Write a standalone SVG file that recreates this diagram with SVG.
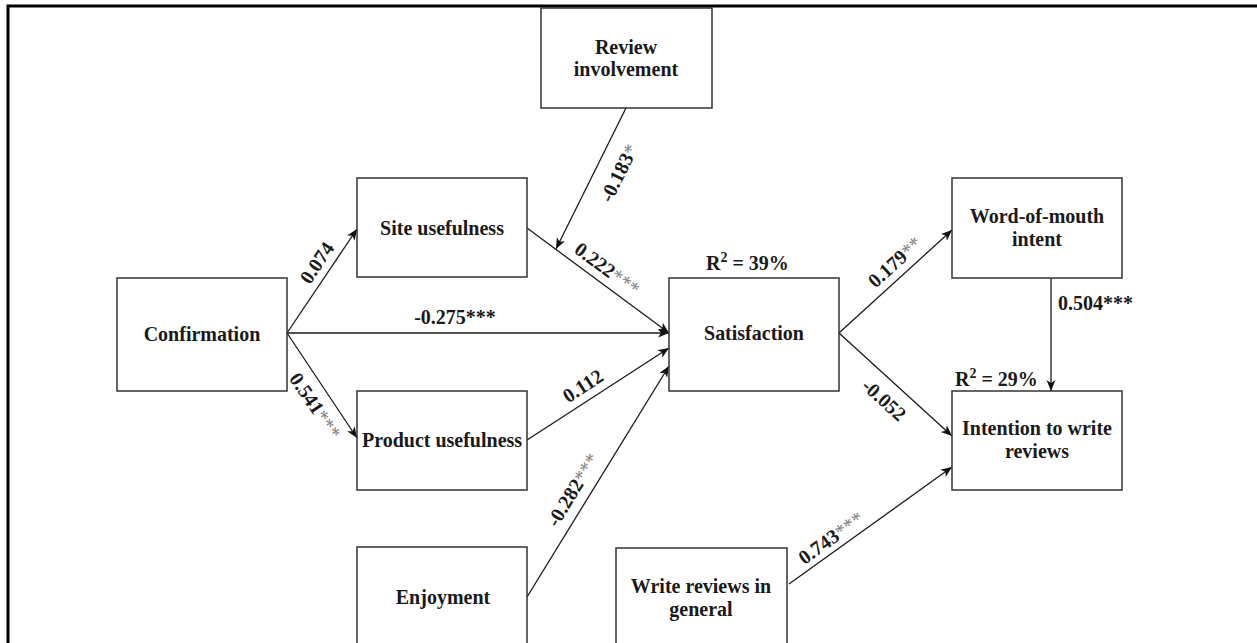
<svg xmlns="http://www.w3.org/2000/svg" width="1257" height="643" viewBox="0 0 1257 643">
<defs>
<marker id="arr" markerUnits="userSpaceOnUse" markerWidth="12" markerHeight="10" refX="11" refY="4.5" orient="auto">
<path d="M0,0 L11,4.5 L0,9 L3,4.5 z" fill="#111"/>
</marker>
<style>
.box{fill:#fff;stroke:#333;stroke-width:1.5}
.t{font-family:"Liberation Serif","Times New Roman",serif;font-size:20px;font-weight:bold;fill:#1a1a1a;text-anchor:middle}
.l{font-family:"Liberation Serif","Times New Roman",serif;font-size:20px;font-weight:bold;fill:#1a1a1a}
.c{text-anchor:middle}
.g{fill:#808080;font-weight:normal}
.e{fill:none;stroke:#1a1a1a;stroke-width:1.3;marker-end:url(#arr)}
.frame{fill:none;stroke:#000;stroke-width:3}
</style>
</defs>
<rect class="frame" x="8" y="6" width="1300" height="700"/>

<g id="connectors">
<path class="e" d="M287,333 L357,229"/>
<path class="e" d="M287,333 L669,333"/>
<path class="e" d="M287,333 L357,438"/>
<path class="e" d="M527,228 L669,333"/>
<path class="e" d="M626,108 L556,249"/>
<path class="e" d="M527,440 L669,348"/>
<path class="e" d="M527,597 L669,366"/>
<path class="e" d="M839,333 L952,230"/>
<path class="e" d="M839,333 L952,436"/>
<path class="e" d="M1051,278 L1051,391"/>
<path class="e" d="M789,584 L952,467"/>

<text class="l c" x="317" y="263" dy=".33em" transform="rotate(-56 317 263)">0.074</text>
<text class="l c" x="315" y="406" dy=".33em" transform="rotate(56 315 406)">0.541<tspan class="g">***</tspan></text>
<text class="l c" x="455" y="324">-0.275***</text>
<text class="l c" x="607" y="269" dy=".33em" transform="rotate(36.5 607 269)">0.222<tspan class="g">***</tspan></text>
<text class="l c" x="619" y="173" dy=".33em" transform="rotate(-63.6 619 173)">-0.183<tspan class="g">*</tspan></text>
<text class="l c" x="583" y="386" dy=".33em" transform="rotate(-32.9 583 386)">0.112</text>
<text class="l c" x="573" y="490" dy=".33em" transform="rotate(-58.4 573 490)">-0.282<tspan class="g">***</tspan></text>
<text class="l c" x="895" y="262" dy=".33em" transform="rotate(-42.3 895 262)">0.179<tspan class="g">**</tspan></text>
<text class="l c" x="884" y="400" dy=".33em" transform="rotate(42.3 884 400)">-0.052</text>
<text class="l" x="1058" y="310">0.504***</text>
<text class="l c" x="831" y="538" dy=".33em" transform="rotate(-35.7 831 538)">0.743<tspan class="g">***</tspan></text>
</g>

<g id="review-involvement">
<rect class="box" x="541" y="8" width="171" height="100"/>
<text class="t" x="626" y="54" transform="matrix(1 0 0 1.1 0 -5.4)">Review</text>
<text class="t" x="626" y="76" transform="matrix(1 0 0 1.1 0 -7.6)">involvement</text>
</g>
<g id="site-usefulness">
<rect class="box" x="357" y="178" width="170" height="99"/>
<text class="t" x="442" y="235" transform="matrix(1 0 0 1.1 0 -23.5)">Site usefulness</text>
</g>
<g id="confirmation">
<rect class="box" x="117" y="278" width="170" height="113"/>
<text class="t" x="202" y="341" transform="matrix(1 0 0 1.1 0 -34.1)">Confirmation</text>
</g>
<g id="product-usefulness">
<rect class="box" x="357" y="391" width="170" height="99"/>
<text class="t" x="442" y="447" transform="matrix(1 0 0 1.1 0 -44.7)">Product usefulness</text>
</g>
<g id="enjoyment">
<rect class="box" x="357" y="547" width="170" height="110"/>
<text class="t" x="443" y="604" transform="matrix(1 0 0 1.1 0 -60.4)">Enjoyment</text>
</g>
<g id="satisfaction">
<rect class="box" x="669" y="278" width="170" height="113"/>
<text class="t" x="754" y="340" transform="matrix(1 0 0 1.1 0 -34)">Satisfaction</text>
<text class="l" x="706" y="270">R<tspan font-size="14" dy="-8">2</tspan><tspan dy="8"> = 39%</tspan></text>
</g>
<g id="word-of-mouth">
<rect class="box" x="952" y="178" width="170" height="100"/>
<text class="t" x="1037" y="223" transform="matrix(1 0 0 1.1 0 -22.3)">Word-of-mouth</text>
<text class="t" x="1037" y="246" transform="matrix(1 0 0 1.1 0 -24.6)">intent</text>
</g>
<g id="intention">
<rect class="box" x="952" y="391" width="170" height="99"/>
<text class="t" x="1037" y="435" transform="matrix(1 0 0 1.1 0 -43.5)">Intention to write</text>
<text class="t" x="1037" y="458" transform="matrix(1 0 0 1.1 0 -45.8)">reviews</text>
<text class="l" x="955" y="386">R<tspan font-size="14" dy="-8">2</tspan><tspan dy="8"> = 29%</tspan></text>
</g>
<g id="write-reviews">
<rect class="box" x="616" y="548" width="171" height="110"/>
<text class="t" x="701" y="593" transform="matrix(1 0 0 1.1 0 -59.3)">Write reviews in</text>
<text class="t" x="701" y="616" transform="matrix(1 0 0 1.1 0 -61.6)">general</text>
</g>
</svg>
